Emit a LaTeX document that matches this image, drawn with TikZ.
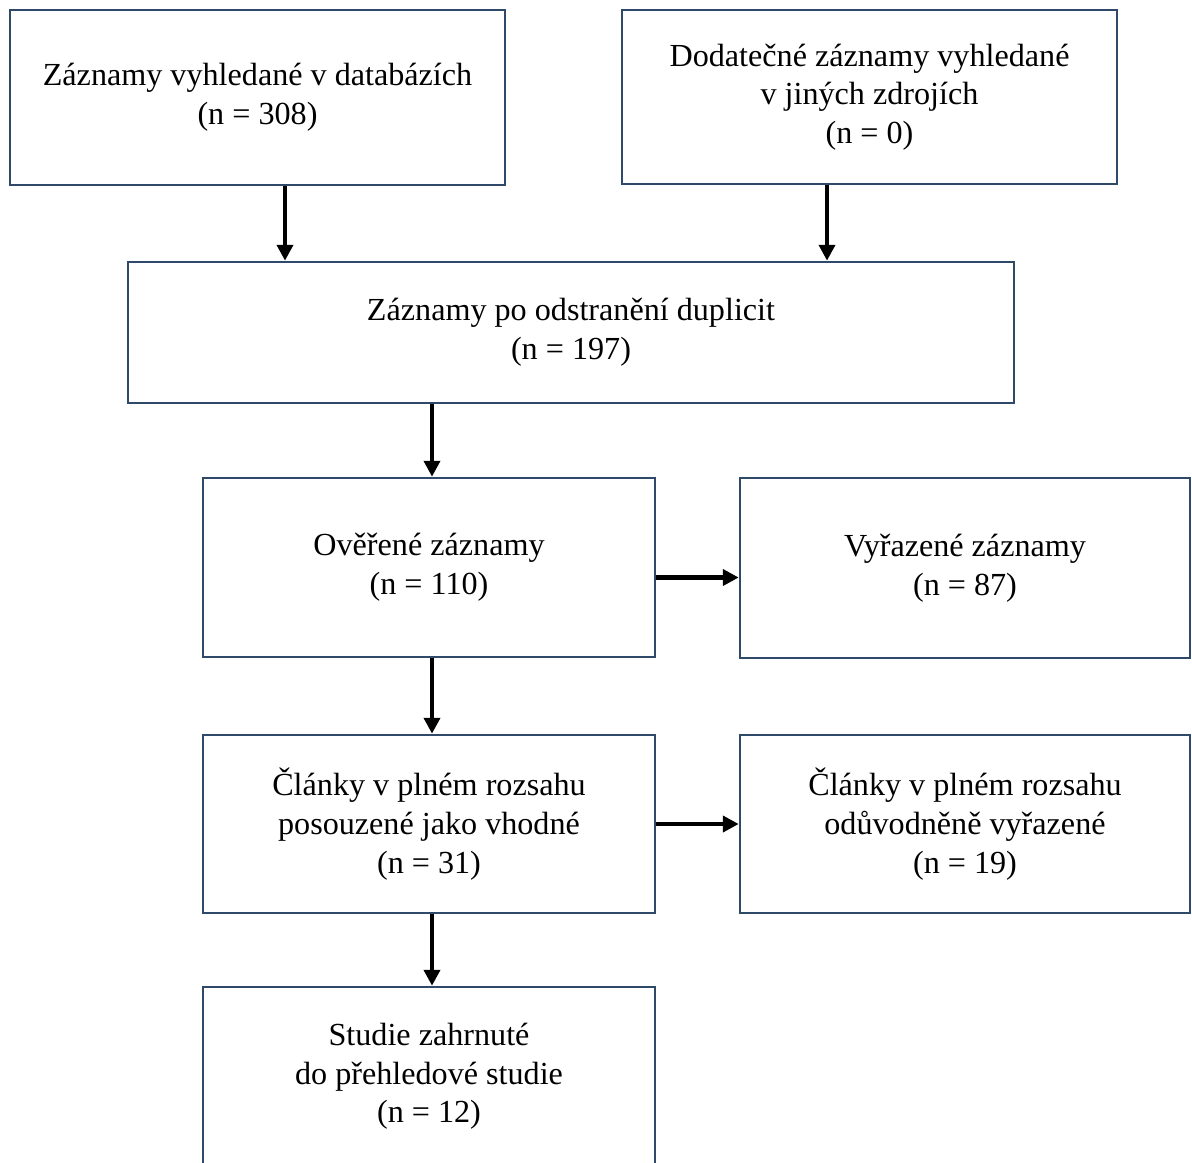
\documentclass[tikz,border=0pt]{standalone}
\usepackage{fontspec}
\setmainfont{Liberation Serif}
\usetikzlibrary{arrows.meta}
\definecolor{ramecek}{HTML}{2F4A68}
\tikzset{
  box/.style={draw=ramecek, line width=1.5pt, align=center, inner sep=0pt,
    font=\fontsize{18.3}{22}\selectfont},
  sipka/.style={-{Triangle[length=9pt,width=9pt]}, line width=2.6pt}
}
\begin{document}
\begin{tikzpicture}[x=0.02cm, y=-0.02cm]
    \useasboundingbox (0,0) rectangle (1192,1162);
    % Identification
    \node[box, minimum width=9.9cm, minimum height=3.5cm] (databaze) at (257.5,97.5)
        {Záznamy vyhledané v databázích\\(n = 308)};
    \node[box, minimum width=9.9cm, minimum height=3.48cm] (jine) at (869.5,97)
        {Dodatečné záznamy vyhledané\\v jiných zdrojích\\(n = 0)};
    \node[box, minimum width=17.72cm, minimum height=2.82cm] (duplicity) at (571,332.5)
        {Záznamy po odstranění duplicit\\(n = 197)};
    % Screening
    \node[box, minimum width=9.04cm, minimum height=3.58cm] (overene) at (429,567.5)
        {Ověřené záznamy\\(n = 110)};
    \node[box, minimum width=9cm, minimum height=3.6cm] (vyrazene) at (965,568)
        {Vyřazené záznamy\\(n = 87)};
    % Eligibility
    \node[box, minimum width=9.04cm, minimum height=3.56cm] (clanky) at (429,824)
        {Články v plném rozsahu\\posouzené jako vhodné\\(n = 31)};
    \node[box, minimum width=9cm, minimum height=3.56cm] (vyloucene) at (965,824)
        {Články v plném rozsahu\\odůvodněně vyřazené\\(n = 19)};
    % Included
    \node[box, minimum width=9.04cm, minimum height=3.58cm] (zahrnute) at (429,1076.5)
        {Studie zahrnuté\\do přehledové studie\\(n = 12)};
    % Arrows
    \draw[sipka] ([xshift=0.55cm]databaze.south) coordinate (a1) -- (a1 |- duplicity.north);
    \draw[sipka] ([xshift=-0.85cm]jine.south) coordinate (b1) -- (b1 |- duplicity.north);
    \draw[sipka] ([xshift=0.06cm]duplicity.south -| overene.north) coordinate (c1) -- (c1 |- overene.north);
    \draw[sipka] ([yshift=-0.2cm]overene.east) -- ([yshift=-0.2cm]overene.east -| vyrazene.west);
    \draw[sipka] ([xshift=0.06cm]overene.south) coordinate (d1) -- (d1 |- clanky.north);
    \draw[sipka] (clanky) -- (vyloucene);
    \draw[sipka] ([xshift=0.06cm]clanky.south) coordinate (f1) -- (f1 |- zahrnute.north);
\end{tikzpicture}
\end{document}
